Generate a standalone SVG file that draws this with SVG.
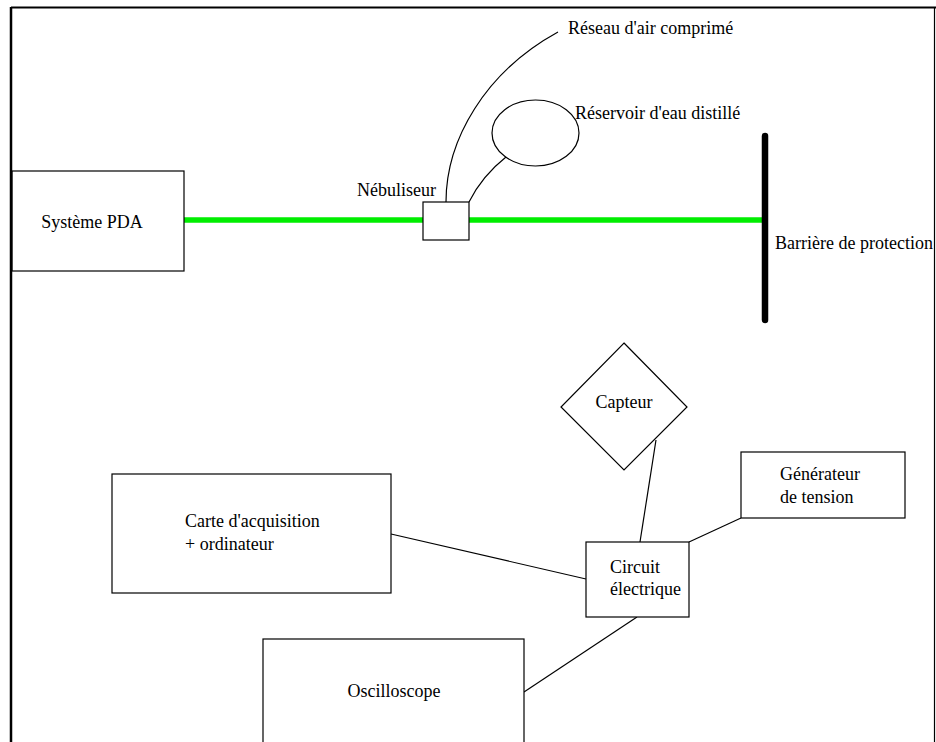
<svg xmlns="http://www.w3.org/2000/svg" width="936" height="742" viewBox="0 0 936 742">
<style>
  .box { fill: #fff; stroke: #000; stroke-width: 1.2; }
  .wire { fill: none; stroke: #000; stroke-width: 1.2; }
  .lbl { font-family: 'Liberation Serif', 'DejaVu Serif', serif; font-size: 18px; fill: #000; }
  .mid { text-anchor: middle; }
</style>
<rect x="0" y="0" width="936" height="742" fill="#fff"/>
<g id="connectors">
  <line x1="184" y1="220" x2="762" y2="220" stroke="#00ee00" stroke-width="5.5" stroke-linecap="round"/>
  <path class="wire" d="M446,202 C446,140 485,72 558,32"/>
  <path class="wire" d="M469,202 Q482,176 506,157"/>
  <line class="wire" x1="656" y1="440" x2="640" y2="542"/>
  <line class="wire" x1="741" y1="518" x2="689" y2="542"/>
  <line class="wire" x1="391" y1="534" x2="586" y2="579"/>
  <line class="wire" x1="524" y1="692" x2="637" y2="617"/>
</g>
<g id="pda">
  <rect class="box" x="12" y="171" width="172" height="100"/>
  <text class="lbl mid" x="92" y="228" font-family="'Liberation Serif', 'DejaVu Serif', serif">Système PDA</text>
</g>
<g id="nebuliseur">
  <rect class="box" x="423" y="202" width="46" height="38"/>
  <text class="lbl" x="357" y="196">Nébuliseur</text>
</g>
<g id="air">
  <text class="lbl" x="568" y="34">Réseau d'air comprimé</text>
</g>
<g id="reservoir">
  <ellipse class="box" cx="535.5" cy="133" rx="43.5" ry="33"/>
  <text class="lbl" x="575" y="119">Réservoir d'eau distillé</text>
</g>
<g id="barriere">
  <line x1="765" y1="136" x2="765" y2="320" stroke="#000" stroke-width="6.5" stroke-linecap="round"/>
  <text class="lbl" x="775" y="249">Barrière de protection</text>
</g>
<g id="capteur">
  <polygon class="box" points="624,343 687,407 624,470 561,407"/>
  <text class="lbl mid" x="624" y="408">Capteur</text>
</g>
<g id="generateur">
  <rect class="box" x="741" y="452" width="164" height="66"/>
  <text class="lbl" x="780" y="480">Générateur</text>
  <text class="lbl" x="780" y="503">de tension</text>
</g>
<g id="carte">
  <rect class="box" x="112" y="474" width="279" height="119"/>
  <text class="lbl" x="185" y="527">Carte d'acquisition</text>
  <text class="lbl" x="185" y="550">+ ordinateur</text>
</g>
<g id="circuit">
  <rect class="box" x="586" y="542" width="103" height="75"/>
  <text class="lbl" x="610" y="573">Circuit</text>
  <text class="lbl" x="610" y="595">électrique</text>
</g>
<g id="oscilloscope">
  <rect class="box" x="263" y="639" width="261" height="120"/>
  <text class="lbl mid" x="394" y="697">Oscilloscope</text>
</g>
<g id="frame">
  <rect x="935" y="0" width="1" height="742" fill="#fff"/>
  <line x1="11" y1="7.5" x2="936" y2="7.5" stroke="#000" stroke-width="2.2"/>
  <line x1="11" y1="7" x2="11" y2="742" stroke="#000" stroke-width="2.5"/>
  <line x1="934.5" y1="7" x2="934.5" y2="742" stroke="#000" stroke-width="1.2"/>
</g>
</svg>
